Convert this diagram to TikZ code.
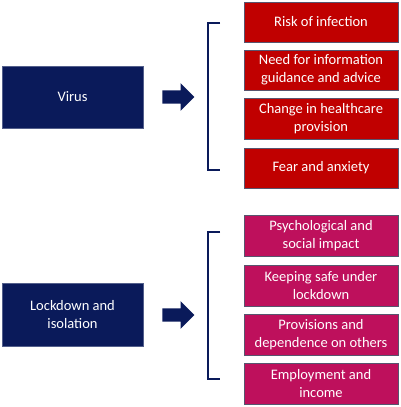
\documentclass[tikz,border=0pt]{standalone}
\usepackage{fontspec}
\setmainfont{Carlito}
\usetikzlibrary{shapes.arrows}

\definecolor{navyblue}{RGB}{10,26,90}
\definecolor{virusred}{RGB}{192,0,0}
\definecolor{lockpink}{RGB}{190,16,92}
\definecolor{boxedge}{RGB}{88,84,110}

\tikzset{
  causebox/.style={fill=navyblue,draw=navyblue!70!white,line width=0.6pt,text=white,align=center,
    minimum width=141,minimum height=62,font=\fontsize{14.5}{18}\selectfont},
  redbox/.style={fill=virusred,draw=boxedge,line width=0.8pt,text=white,align=center,
    minimum width=154,minimum height=40,inner sep=0pt,font=\fontsize{14.5}{18}\selectfont},
  pinkbox/.style={redbox,fill=lockpink},
  blockarrow/.style={single arrow,fill=navyblue,draw=none,minimum height=32,minimum width=22,
    single arrow tip angle=90,inner xsep=0pt,inner ysep=6.5pt},
  bracketline/.style={draw=navyblue,line width=1.6pt}
}

\begin{document}
\begin{tikzpicture}[x=1pt,y=1pt,yscale=-1]
\useasboundingbox (0,0) rectangle (400,407);

%virus group
\node[causebox] (virus) at (72.5,97) {Virus};
\node[blockarrow] (arrowA) at (175,97) {};
\draw[bracketline] (220,23) -- (208,23) -- (208,170) -- (220,170);
\node[redbox] (risk) at (321,22) {Risk of infection};
\node[redbox] (info) at (321,70) {Need for information\\guidance and advice};
\node[redbox,minimum height=41] (care) at (321,118.5) {Change in healthcare\\provision};
\node[redbox] (fear) at (321,168) {Fear and anxiety};

%lockdown group
\node[causebox,minimum height=63] (lock) at (72.5,314.5) {Lockdown and\\isolation};
\node[blockarrow] (arrowB) at (175,315) {};
\draw[bracketline] (220,232) -- (208,232) -- (208,379) -- (220,379);
\node[pinkbox,minimum height=41] (psych) at (321,235.5) {Psychological and\\social impact};
\node[pinkbox,minimum height=41] (safe) at (321,285.5) {Keeping safe under\\lockdown};
\node[pinkbox,minimum height=41] (prov) at (321,334.5) {Provisions and\\dependence on others};
\node[pinkbox,minimum height=41] (job) at (321,383.5) {Employment and\\income};

\end{tikzpicture}
\end{document}
